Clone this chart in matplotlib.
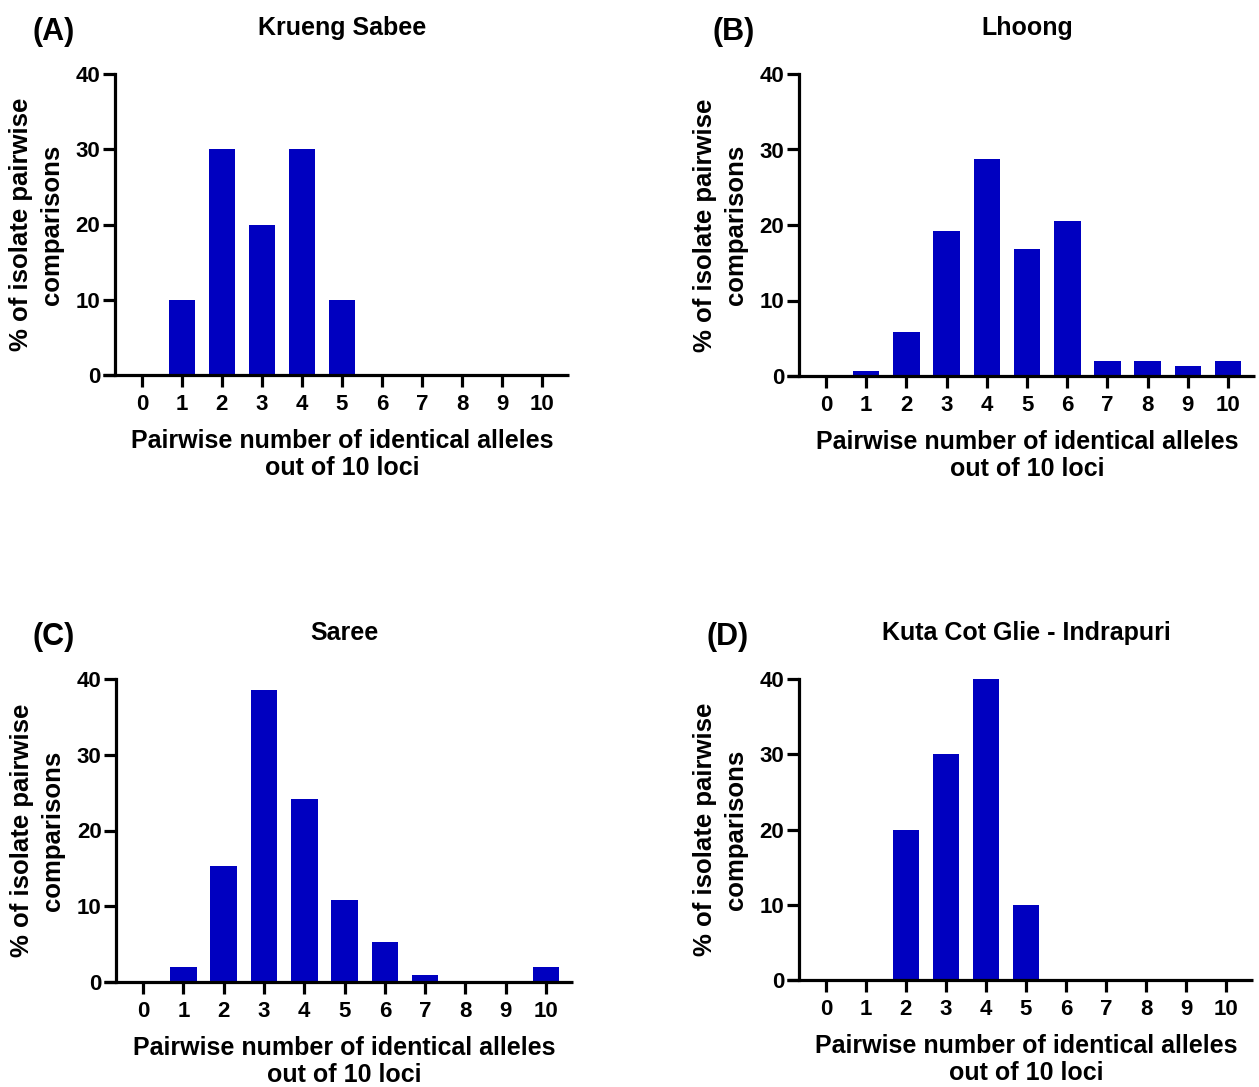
import matplotlib
matplotlib.use('Agg')
import matplotlib.pyplot as plt

plt.rcParams['font.family'] = ['Liberation Sans', 'DejaVu Sans']
plt.rcParams['font.weight'] = 'bold'

# ---------------- data ----------------
categories = list(range(11))
tick_labels = [str(c) for c in categories]
krueng_sabee = [0, 10, 30, 20, 30, 10, 0, 0, 0, 0, 0]
lhoong = [0, 0.6, 5.8, 19.2, 28.7, 16.8, 20.5, 2.0, 2.0, 1.3, 2.0]
saree = [0, 2.0, 15.3, 38.5, 24.1, 10.8, 5.3, 0.9, 0, 0, 2.0]
kuta_cot_glie = [0, 0, 20, 30, 40, 10, 0, 0, 0, 0, 0]
series = [krueng_sabee, lhoong, saree, kuta_cot_glie]
titles = ['Krueng Sabee', 'Lhoong', 'Saree', 'Kuta Cot Glie - Indrapuri']
panel_labels = ['(A)', '(B)', '(C)', '(D)']
yticks = [0, 10, 20, 30, 40]
ylabel_lines = ['% of isolate pairwise', 'comparisons']
xlabel_lines = ['Pairwise number of identical alleles', 'out of 10 loci']

# ---------------- layout ----------------
W, H = 1259, 1087
fig = plt.figure(figsize=(W / 100, H / 100), dpi=100)

# pixel boxes: left, right, top(y=40), bottom(y=0)
boxes = [(103, 569, 74, 375), (787, 1255, 74, 376),
         (104, 573, 679, 982), (787, 1253, 679, 980)]
label_x = [33, 712, 33, 707]

XMIN, XMAX, SPINE = -0.97, 10.67, -0.67
BAR_COLOR = '#0000C0'
LW = 2.3
FS_TICK = 16
FS_LABEL = 18
FS_YLABEL = 18.5
FS_TITLE = 18
FS_PANEL = 22


def fx(px):
    return px / W


def fy(py):
    return 1 - py / H


for i, (vals, (l, r, t, b)) in enumerate(zip(series, boxes)):
    ax = fig.add_axes([fx(l), fy(b), (r - l) / W, (b - t) / H])
    ax.bar(categories, vals, width=0.66, color=BAR_COLOR, edgecolor='none')
    ax.set_xlim(XMIN, XMAX)
    ax.set_ylim(0, 40)
    ax.spines['top'].set_visible(False)
    ax.spines['right'].set_visible(False)
    ax.spines['left'].set_position(('data', SPINE))
    ax.spines['left'].set_linewidth(LW)
    ax.spines['bottom'].set_linewidth(LW)
    ax.spines['bottom'].set_capstyle('butt')
    ax.set_xticks(categories)
    ax.set_xticklabels(tick_labels)
    ax.set_yticks(yticks)
    ax.tick_params(axis='both', direction='out', length=8.5, width=LW,
                   labelsize=FS_TICK, colors='black')
    ax.tick_params(axis='x', pad=5)
    ax.tick_params(axis='y', pad=2)
    for lab in ax.get_xticklabels() + ax.get_yticklabels():
        lab.set_fontweight('bold')

    # horizontal centre of the region from the y-spine to the x end
    spine_px = l + (SPINE - XMIN) / (XMAX - XMIN) * (r - l)
    cx = (spine_px + r) / 2
    off = t - 74

    fig.text(fx(cx), fy(35 + off), titles[i], ha='center', va='baseline',
             fontsize=FS_TITLE, fontweight='bold')
    fig.text(fx(label_x[i]), fy(40 + off), panel_labels[i], ha='left',
             va='baseline', fontsize=FS_PANEL, fontweight='bold')

    boff = b - 375
    fig.text(fx(cx), fy(448 + boff), xlabel_lines[0], ha='center',
             va='baseline', fontsize=FS_LABEL, fontweight='bold')
    fig.text(fx(cx), fy(475 + boff), xlabel_lines[1], ha='center',
             va='baseline', fontsize=FS_LABEL, fontweight='bold')

    cy = (t + b) / 2
    fig.text(fx(spine_px - 87), fy(cy), ylabel_lines[0], rotation=90,
             rotation_mode='anchor', ha='center', va='baseline',
             fontsize=FS_YLABEL, fontweight='bold')
    fig.text(fx(spine_px - 56), fy(cy), ylabel_lines[1], rotation=90,
             rotation_mode='anchor', ha='center', va='baseline',
             fontsize=FS_YLABEL, fontweight='bold')

fig.savefig('out.png', dpi=100)
